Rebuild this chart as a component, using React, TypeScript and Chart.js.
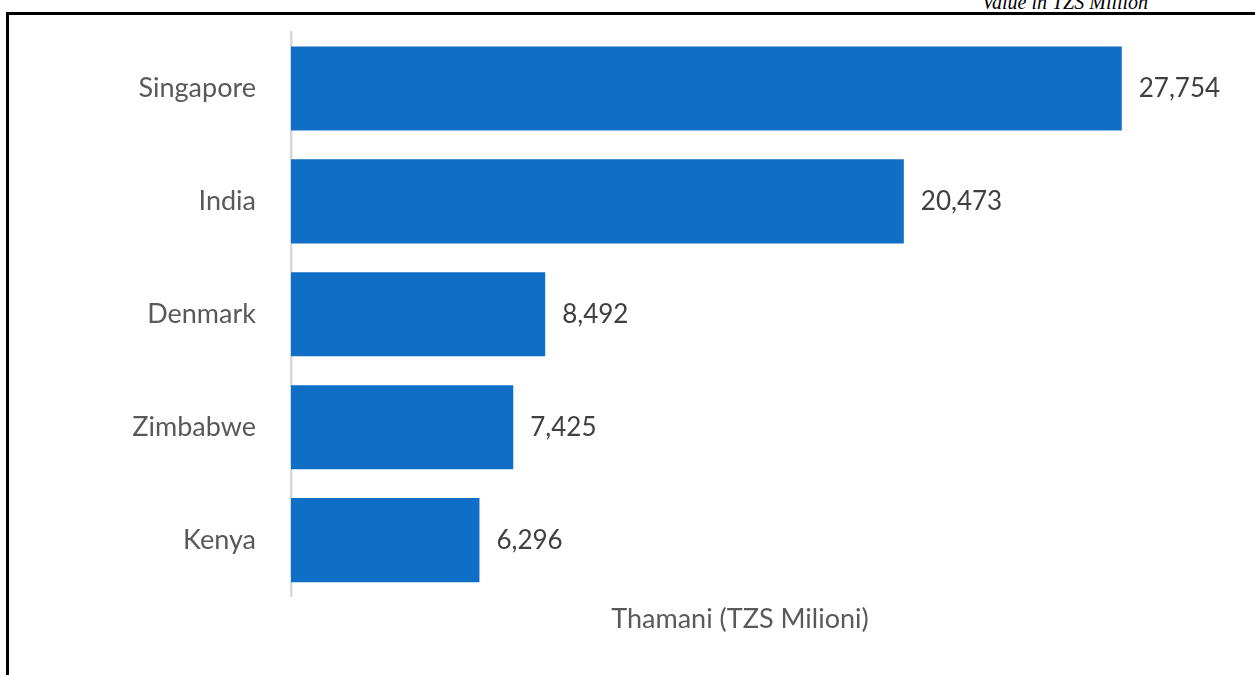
import React, { useEffect, useRef } from "react";
import { Chart, registerables } from "chart.js";

Chart.register(...registerables);

const categories = ["Singapore", "India", "Denmark", "Zimbabwe", "Kenya"];
const values = [27754, 20473, 8492, 7425, 6296];
const axisTitle = "Thamani (TZS Milioni)";
const noteText = "Value in TZS Million";

const FONT = "Lato, 'Open Sans', sans-serif";

const dataLabelPlugin = {
  id: "dataLabels",
  afterDatasetsDraw(chart: any) {
    const ctx = chart.ctx;
    const meta = chart.getDatasetMeta(0);
    ctx.save();
    ctx.font = `26px ${FONT}`;
    ctx.fillStyle = "#404040";
    ctx.textAlign = "left";
    ctx.textBaseline = "middle";
    meta.data.forEach((bar: any, i: number) => {
      const v = chart.data.datasets[0].data[i] as number;
      ctx.fillText(v.toLocaleString("en-US"), bar.x + 17, bar.y);
    });
    ctx.restore();
  },
};

export default function App() {
  const ref = useRef<HTMLCanvasElement>(null);
  useEffect(() => {
    if (!ref.current) return;
    const chart = new Chart(ref.current, {
      type: "bar",
      data: {
        labels: categories,
        datasets: [
          {
            data: values,
            backgroundColor: "#0F6FC6",
            borderWidth: 0,
            categoryPercentage: 1,
            barPercentage: 0.745,
          },
        ],
      },
      options: {
        indexAxis: "y",
        responsive: false,
        animation: false,
        layout: { padding: { top: 32, right: 66, bottom: 40, left: 0 } },
        plugins: {
          legend: { display: false },
          tooltip: { enabled: false },
        },
        scales: {
          x: {
            min: 0,
            max: 30000,
            grid: { display: false, drawTicks: false },
            border: { display: false },
            ticks: { display: false },
            title: {
              display: true,
              text: axisTitle,
              color: "#595959",
              font: { family: FONT, size: 27 },
              padding: { top: 6, bottom: 0 },
            },
            afterFit: (s: any) => {
              s.paddingLeft = 0;
              s.paddingRight = 0;
            },
          },
          y: {
            grid: { display: false, drawTicks: false },
            border: { display: true, color: "#D9D9D9", width: 2.5 },
            ticks: {
              color: "#595959",
              font: { family: FONT, size: 27 },
              padding: 35,
            },
            afterFit: (s: any) => {
              s.width = 291;
              s.paddingTop = 0;
              s.paddingBottom = 0;
            },
          },
        },
      },
      plugins: [dataLabelPlugin],
    });
    return () => chart.destroy();
  }, []);

  return (
    <div
      style={{
        position: "absolute",
        left: 0,
        top: 0,
        width: 1255,
        height: 675,
        overflow: "hidden",
        background: "#fff",
      }}
    >
      <div
        style={{
          position: "absolute",
          left: 982,
          top: -8,
          fontFamily: "'Liberation Serif', 'DejaVu Serif', serif",
          fontStyle: "italic",
          fontSize: 20,
          lineHeight: "20px",
          color: "#000",
          whiteSpace: "nowrap",
        }}
      >
        {noteText}
      </div>
      <div
        style={{
          position: "absolute",
          left: 6,
          top: 12,
          width: 1260,
          height: 700,
          borderTop: "3px solid #000",
          borderLeft: "3px solid #000",
        }}
      />
      <canvas
        ref={ref}
        width={1255}
        height={675}
        style={{ position: "absolute", left: 0, top: 0 }}
      />
    </div>
  );
}
